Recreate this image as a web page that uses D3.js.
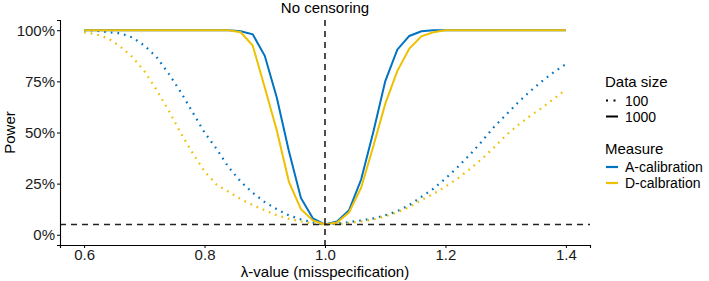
<!DOCTYPE html>
<html>
<head>
<meta charset="utf-8">
<script src="https://cdn.jsdelivr.net/npm/d3@7"></script>
<style>
  body { margin: 0; background: #fff; }
  svg { display: block; font-family: "Liberation Sans", Arial, sans-serif; }
</style>
</head>
<body>
<svg id="chart" width="709" height="281"></svg>
<script>
// lambda values (misspecification), step 0.02
var lambda = d3.range(41).map(function(i) { return +(0.6 + i * 0.02).toFixed(2); });

// power, data size 1000
var aCal1000 = [1, 1, 1, 1, 1, 1, 1, 1, 1, 1, 1, 1, 1,
  0.995, 0.98, 0.875, 0.67, 0.41, 0.18, 0.08, 0.05,
  0.065, 0.12, 0.27, 0.50, 0.75, 0.905, 0.972, 0.995,
  1, 1, 1, 1, 1, 1, 1, 1, 1, 1, 1, 1];
var dCal1000 = [1, 1, 1, 1, 1, 1, 1, 1, 1, 1, 1, 1, 1,
  0.99, 0.925, 0.72, 0.51, 0.26, 0.125, 0.07, 0.05,
  0.06, 0.11, 0.23, 0.43, 0.64, 0.80, 0.91, 0.97, 0.99,
  1, 1, 1, 1, 1, 1, 1, 1, 1, 1, 1];

// power, data size 100
var aCal100 = [1.0, 0.998, 0.99, 0.985, 0.965, 0.925, 0.87, 0.79, 0.70, 0.60, 0.50,
  0.42, 0.33, 0.26, 0.205, 0.16, 0.125, 0.095, 0.075, 0.06, 0.05,
  0.055, 0.062, 0.07, 0.08, 0.095, 0.115, 0.145, 0.185, 0.225, 0.275,
  0.33, 0.39, 0.455, 0.525, 0.585, 0.645, 0.70, 0.75, 0.795, 0.835];
var dCal100 = [0.99, 0.98, 0.96, 0.92, 0.87, 0.80, 0.71, 0.61, 0.50, 0.40, 0.31,
  0.245, 0.21, 0.175, 0.145, 0.12, 0.095, 0.078, 0.065, 0.055, 0.05,
  0.052, 0.058, 0.065, 0.075, 0.09, 0.11, 0.135, 0.17, 0.20, 0.235,
  0.275, 0.32, 0.37, 0.425, 0.485, 0.535, 0.58, 0.62, 0.665, 0.71];

var xTicks = [0.6, 0.8, 1.0, 1.2, 1.4];
var yTicks = [0, 0.25, 0.5, 0.75, 1];
var sizeLabels = ['100', '1000'];
var measureLabels = ['A-calibration', 'D-calbration'];
var nominalLevel = 0.05;
var noMisspec = 1.0;

var colors = { 'A-calibration': '#0073C2', 'D-calbration': '#EFC000' };
var dash = { '100': '1.7,5', '1000': null };

var series = [
  { measure: 'A-calibration', size: '100', values: aCal100 },
  { measure: 'D-calbration', size: '100', values: dCal100 },
  { measure: 'A-calibration', size: '1000', values: aCal1000 },
  { measure: 'D-calbration', size: '1000', values: dCal1000 }
];

var margin = { top: 20, right: 119, bottom: 36, left: 60 };
var svg = d3.select('#chart');
var width = +svg.attr('width') - margin.left - margin.right;
var height = +svg.attr('height') - margin.top - margin.bottom;

var x = d3.scaleLinear().domain([0.56, 1.44]).range([0, width]);
var y = d3.scaleLinear().domain([-0.05, 1.05]).range([height, 0]);

var g = svg.append('g').attr('transform', 'translate(' + margin.left + ',' + margin.top + ')');

var line = d3.line()
  .x(function(d, i) { return x(lambda[i]); })
  .y(function(d) { return y(d); });

g.selectAll('path.series')
  .data(series)
  .enter().append('path')
  .attr('class', 'series')
  .attr('d', function(s) { return line(s.values); })
  .attr('fill', 'none')
  .attr('stroke', function(s) { return colors[s.measure]; })
  .attr('stroke-width', function(s) { return s.size === '100' ? 2.2 : 2; })
  .attr('stroke-dasharray', function(s) { return dash[s.size]; });

// reference lines
g.append('line')
  .attr('x1', 0).attr('x2', width)
  .attr('y1', y(nominalLevel)).attr('y2', y(nominalLevel))
  .attr('stroke', '#222').attr('stroke-width', 1.6)
  .attr('stroke-dasharray', '6,5');
g.append('line')
  .attr('x1', x(noMisspec)).attr('x2', x(noMisspec))
  .attr('y1', 0).attr('y2', height)
  .attr('stroke', '#222').attr('stroke-width', 1.6)
  .attr('stroke-dasharray', '6,5');

// axes
var xAxis = g.append('g')
  .attr('transform', 'translate(0,' + height + ')')
  .call(d3.axisBottom(x).tickValues(xTicks).tickFormat(d3.format('.1f')).tickSizeOuter(0).tickSize(3));
var yAxis = g.append('g')
  .call(d3.axisLeft(y).tickValues(yTicks).tickFormat(d3.format('.0%')).tickSizeOuter(0).tickSize(3));

[xAxis, yAxis].forEach(function(a) {
  a.attr('font-family', null).attr('font-size', null);
  a.select('.domain').attr('stroke', '#000').attr('stroke-width', 1.1);
  a.selectAll('.tick line').attr('stroke', '#000').attr('stroke-width', 1);
  a.selectAll('.tick text').attr('fill', '#1a1a1a').style('font-size', '15px');
});
xAxis.selectAll('.tick text').attr('y', 4.5);
yAxis.selectAll('.tick text').attr('x', -5);

// titles
svg.append('text')
  .attr('x', margin.left + width / 2).attr('y', 13)
  .attr('text-anchor', 'middle').style('font-size', '15px')
  .text('No censoring');
svg.append('text')
  .attr('x', margin.left + width / 2).attr('y', 276.5)
  .attr('text-anchor', 'middle').style('font-size', '15px')
  .text('λ-value (misspecification)');
svg.append('text')
  .attr('transform', 'translate(15,' + (margin.top + height / 2) + ') rotate(-90)')
  .attr('text-anchor', 'middle').style('font-size', '15px')
  .text('Power');

// legends
var leg = svg.append('g').attr('transform', 'translate(605,0)');
leg.append('text').attr('x', 0).attr('y', 87).style('font-size', '15px').text('Data size');
var sizeItems = leg.selectAll('g.size').data(sizeLabels).enter().append('g')
  .attr('transform', function(d, i) { return 'translate(0,' + (100.5 + i * 16) + ')'; });
sizeItems.append('line')
  .attr('x1', 1).attr('x2', 13).attr('y1', 0).attr('y2', 0)
  .attr('stroke', '#000').attr('stroke-width', 2)
  .attr('stroke-dasharray', function(d) { return dash[d] ? '2,5.5' : null; });
sizeItems.append('text').attr('x', 20).attr('y', 5).style('font-size', '14px').text(function(d) { return d; });

leg.append('text').attr('x', 0).attr('y', 154).style('font-size', '15px').text('Measure');
var measItems = leg.selectAll('g.meas').data(measureLabels).enter().append('g')
  .attr('transform', function(d, i) { return 'translate(0,' + (167 + i * 16) + ')'; });
measItems.append('line')
  .attr('x1', 1).attr('x2', 13).attr('y1', 0).attr('y2', 0)
  .attr('stroke', function(d) { return colors[d]; }).attr('stroke-width', 2.2);
measItems.append('text').attr('x', 20).attr('y', 5).style('font-size', '14px').text(function(d) { return d; });
</script>
</body>
</html>
